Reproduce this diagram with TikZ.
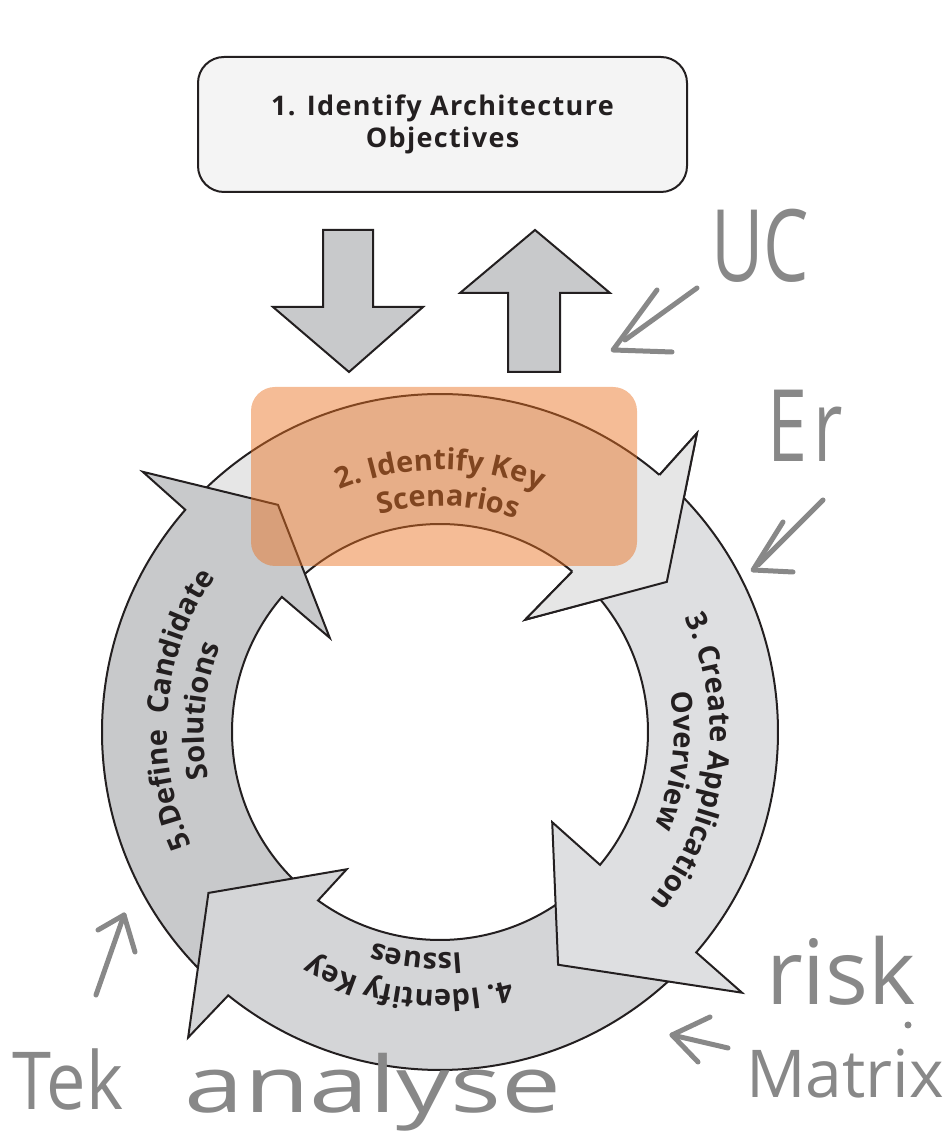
\documentclass[tikz,border=0pt]{standalone}
\usepackage{fontspec}
\setmainfont{Open Sans}
\usetikzlibrary{decorations.text}
\definecolor{ink}{HTML}{231F20}
\definecolor{ca}{HTML}{E6E6E6}
\definecolor{cb}{HTML}{DEDFE1}
\definecolor{cc}{HTML}{D4D5D7}
\definecolor{cd}{HTML}{C8C9CB}
\definecolor{topfill}{HTML}{F4F4F4}
\definecolor{ov}{RGB}{234,113,32}
\definecolor{pencil}{HTML}{888888}
\newcommand\rtf{\fontsize{29}{33}\selectfont\bfseries}
\begin{document}
\begin{tikzpicture}[x=1pt,y=1pt,
  seg/.style={draw=ink, line width=2pt, line join=miter},
  edge/.style={draw=ink, line width=2pt},
  hw/.style={draw=pencil, line width=5pt, line cap=round, line join=round},
  hwtext/.style={text=pencil, inner sep=0pt, anchor=base},
  ringtext/.style={decorate, decoration={text along path, text align=center, text={|\rtf\color{ink}|#1}}}]
\useasboundingbox (0,0) rectangle (952,1135);

% ---------------- ring of curved arrows ----------------
\begin{scope}[shift={(440,403)}]
  % 2. Identify Key Scenarios (top)
  \path[seg, fill=ca] (136:338) arc[start angle=136, end angle=49.5, radius=338]
    -- (49.3:394) -- (33.5:272) -- (52.8:141) -- (50.5:208)
    arc[start angle=50.5, end angle=136, radius=208] -- cycle;
  % 5. Define Candidate Solutions (left)
  \path[seg, fill=cd] (229:338) arc[start angle=229, end angle=138.9, radius=338]
    -- (138.8:395) -- (125.5:279) -- (139.5:145) -- (139.5:208)
    arc[start angle=139.5, end angle=229, radius=208] -- cycle;
  % 4. Identify Key Issues (bottom)
  \path[seg, fill=cc] (316:338) arc[start angle=316, end angle=231.2, radius=338]
    -- (230.5:396) -- (214.8:282) -- (235.8:166) -- (234.1:208)
    arc[start angle=234.1, end angle=316, radius=208] -- cycle;
  % 3. Create Application Overview (right)
  \path[seg, fill=cb] (46:338) arc[start angle=46, end angle=-40.7, radius=338]
    -- (-40.8:399) -- (-63.1:261) -- (-38.8:144) -- (-39.7:208)
    arc[start angle=-39.7, end angle=46, radius=208] -- cycle;
  % head of arrow 2 again, over the tail of arrow 3
  \fill[ca] (49.5:338) -- (49.3:394) -- (33.5:272) -- (52.8:141) -- (50.5:208) -- cycle;
  \draw[edge, line join=miter] (49.5:338) -- (49.3:394) -- (33.5:272) -- (52.8:141) -- (50.5:208);

  % curved labels
  \path[ringtext={2. Identify Key}] (150:262) arc[start angle=150, end angle=30, radius=262];
  \path[ringtext={Scenarios}] (148:226) arc[start angle=148, end angle=28, radius=226];
  \path[ringtext={3. Create Application}] (53:270) arc[start angle=53, end angle=-67, radius=270];
  \path[ringtext={Overview}] (53:234) arc[start angle=53, end angle=-67, radius=234];
  \path[ringtext={4. Identify Key}] (323:258) arc[start angle=323, end angle=203, radius=258];
  \path[ringtext={Issues}] (324:221) arc[start angle=324, end angle=204, radius=221];
  \path[ringtext={5.Define{\ }{\ }Candidate}] (235:273) arc[start angle=235, end angle=115, radius=273];
  \path[ringtext={Solutions}] (235:236) arc[start angle=235, end angle=115, radius=236];
\end{scope}

% orange highlight over step 2
\fill[ov, fill opacity=0.47, rounded corners=24pt] (251,569) rectangle (637,748);

% ---------------- top box and the two block arrows ----------------
\node[draw=ink, line width=2pt, fill=topfill, rounded corners=26pt,
      minimum width=489pt, minimum height=135pt, align=center, text=ink,
      font=\fontsize{27}{32}\selectfont\bfseries\addfontfeature{LetterSpace=5}] (obj) at (442.5,1010.5)
      {1. Identify Architecture\\Objectives};
\path[seg, fill=cd] (323,905) -- (373,905) -- (373,828) -- (423,828) -- (349,763)
  -- (273,828) -- (323,828) -- cycle;
\path[seg, fill=cd] (508,763) -- (560,763) -- (560,842) -- (610,842) -- (535,905)
  -- (460,842) -- (508,842) -- cycle;

% ---------------- pencil notes ----------------
\node[hwtext, font=\fontsize{100}{100}\selectfont, xscale=0.72] (uc) at (760,853) {UC};
\draw[hw] (697,847) -- (625,795);
\draw[hw] (657,845) -- (613,785) -- (672,783);

\node[hwtext, font=\fontsize{100}{100}\selectfont, xscale=0.72] (er) at (805,673) {E\kern8pt r};
\draw[hw] (823,635) -- (758,570);
\draw[hw] (783,613) -- (753,565) -- (793,563);

\node[hwtext, font=\fontsize{90}{90}\selectfont] (risk) at (841,130) {risk};
\fill[pencil] (908,110) circle (3.5);
\node[hwtext, font=\fontsize{66}{66}\selectfont] (matrix) at (845,37) {Matrix};
\draw[hw] (728,87) -- (672,100);
\draw[hw] (710,118) -- (672,100) -- (698,73);

\node[hwtext, font=\fontsize{80}{80}\selectfont, xscale=0.88] (tek) at (68,25) {Tek};
\node[hwtext, font=\fontsize{78}{78}\selectfont, xscale=1.37] (ana) at (373,23) {analyse};
\draw[hw] (96,140) -- (124,220);
\draw[hw] (98,205) -- (124,220) -- (135,183);
\end{tikzpicture}
\end{document}
